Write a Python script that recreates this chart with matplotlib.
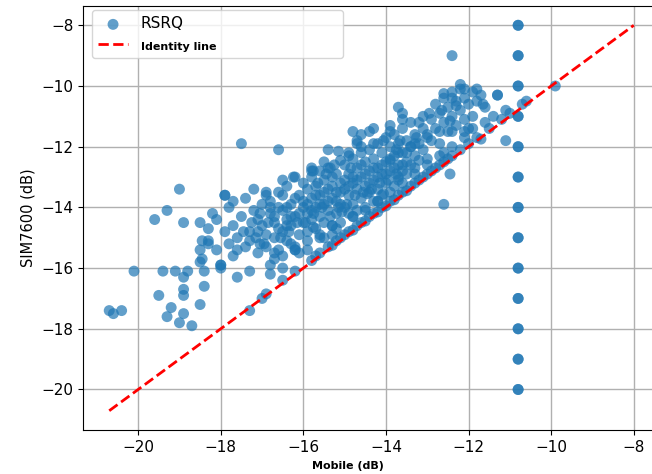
"""RSRQ: SIM7600 vs Mobile"""

import matplotlib
matplotlib.use("Agg")
import matplotlib.pyplot as plt
import numpy as np

# sparse points on the left
left_x = [-19.0, -19.3, -19.6, -18.9, -18.5, -20.1, -19.4, -19.1, -18.8, -18.9,
          -18.4, -18.4, -18.9, -18.9, -19.5, -19.2, -18.5, -20.7, -20.6, -20.4,
          -19.3, -18.9, -19.0, -18.7, -17.3, -18.0, -17.6, -17.3, -18.0, -18.5,
          -18.5, -18.3, -18.2, -18.1, -18.3, -18.45, -18.3, -18.1, -18.45, -18.0,
          -17.9, -17.5, -16.6, -15.4, -17.2, -16.9, -17.9, -17.7, -16.8, -16.5,
          -16.2, -16.8]
left_y = [-13.4, -14.1, -14.4, -14.5, -14.5, -16.1, -16.1, -16.1, -16.1, -16.3,
          -16.1, -16.6, -16.7, -16.9, -16.9, -17.3, -17.2, -17.4, -17.5, -17.4,
          -17.6, -17.5, -17.8, -17.9, -17.4, -16.0, -16.3, -16.1, -15.9, -15.8,
          -15.4, -15.2, -14.2, -14.4, -14.7, -15.1, -15.1, -15.4, -15.7, -15.9,
          -13.6, -11.9, -12.1, -12.1, -13.4, -13.5, -13.6, -13.8, -15.9, -16.0,
          -15.4, -16.2]

# main cloud above the identity line
band_x = [-17.8, -17.7, -17.6, -17.5, -17.4, -17.3, -17.2, -17.1, -17.0, -17.0,
          -17.6, -17.8, -17.3, -17.1, -17.4, -17.9, -17.7,
          -16.9, -16.9, -16.8, -16.8, -16.7, -16.7, -16.6, -16.6, -16.5, -16.5,
          -16.4, -16.4, -16.3, -16.3, -16.2, -16.2, -16.1, -16.1, -16.0, -16.0,
          -16.0, -16.9, -16.6, -16.4, -16.2, -16.7, -16.5, -16.3, -16.1,
          -15.9, -15.9, -15.9, -15.8, -15.8, -15.8, -15.7, -15.7, -15.7, -15.6,
          -15.6, -15.6, -15.5, -15.5, -15.5, -15.4, -15.4, -15.4, -15.3, -15.3,
          -15.3, -15.2, -15.2, -15.2, -15.1, -15.1, -15.0, -15.0, -15.0, -15.9,
          -15.6, -15.3, -15.1, -15.8, -15.5,
          -14.9, -14.9, -14.8, -14.8, -14.8, -14.7, -14.7, -14.6, -14.6, -14.6,
          -14.5, -14.5, -14.5, -14.4, -14.4, -14.4, -14.3, -14.3, -14.2, -14.2,
          -14.2, -14.1, -14.1, -14.0, -14.0, -14.0, -14.9, -14.7, -14.3, -14.1,
          -14.9, -14.6, -14.4, -14.7,
          -13.9, -13.9, -13.8, -13.8, -13.7, -13.7, -13.7, -13.6, -13.6, -13.5,
          -13.5, -13.4, -13.4, -13.3, -13.3, -13.2, -13.1, -13.1, -13.0, -13.0,
          -13.8, -13.5, -13.3, -13.9, -13.6,
          -12.9, -12.9, -12.8, -12.8, -12.7, -12.7, -12.6, -12.6, -12.5, -12.5,
          -12.4, -12.4, -12.3, -12.3, -12.2, -12.2, -12.1, -12.1, -12.0, -11.9,
          -11.8, -11.7, -11.6, -11.3, -12.0,
          -15.76, -15.15, -14.8, -14.3, -13.9, -13.7, -13.6, -13.2, -13.1, -12.95,
          -12.6, -12.65, -12.4, -12.2, -12.1, -11.8, -11.65, -12.3, -11.9, -12.45,
          -13.0, -12.7, -12.4, -12.1, -12.6, -12.45, -12.6, -13.2, -13.6, -13.9,
          -13.75, -13.4, -13.7, -14.06, -14.2, -14.45, -14.8, -15.07, -15.3, -15.6,
          -15.76, -16.2, -16.7, -17.05, -17.05, -17.1, -16.4, -16.5, -16.24, -15.8,
          -15.35, -15.1, -14.9, -14.6, -14.3, -14.7, -14.06, -13.66, -13.26, -12.4,
          -11.3, -9.9]
band_y = [-14.0, -14.6, -15.0, -14.3, -15.3, -14.8, -14.1, -15.5, -14.6, -13.9,
          -15.4, -15.2, -15.1, -14.4, -13.7, -14.8, -15.6,
          -14.9, -15.3, -14.2, -13.8, -15.0, -14.5, -13.5, -15.4, -14.1, -14.8,
          -13.3, -15.1, -13.9, -14.6, -14.3, -15.3, -13.6, -14.9, -13.2, -14.0,
          -14.5, -13.6, -14.0, -14.6, -13.0, -15.7, -15.6, -15.2, -15.5,
          -13.4, -14.2, -14.8, -13.0, -13.7, -14.4, -13.3, -14.0, -14.7, -12.8,
          -13.6, -14.3, -13.1, -13.9, -14.5, -12.7, -13.4, -14.1, -13.0, -13.7,
          -14.6, -12.9, -13.5, -14.2, -13.2, -13.9, -12.6, -13.4, -14.0, -15.1,
          -15.0, -14.9, -14.5, -12.7, -12.5,
          -12.9, -13.6, -12.4, -13.2, -13.9, -12.7, -13.4, -12.2, -13.0, -13.7,
          -12.5, -13.3, -14.0, -12.1, -12.8, -13.5, -12.4, -13.1, -11.9, -12.7,
          -13.4, -12.2, -12.9, -11.7, -12.5, -13.2, -14.2, -14.1, -13.8, -13.6,
          -12.3, -11.6, -11.5, -11.9,
          -12.0, -12.8, -11.6, -12.3, -11.9, -12.6, -13.1, -11.4, -12.2, -11.8,
          -12.5, -11.2, -12.0, -11.6, -12.3, -11.9, -11.4, -12.1, -11.7, -12.4,
          -13.3, -12.9, -12.7, -11.3, -10.9,
          -11.1, -11.8, -10.6, -11.4, -10.9, -11.9, -10.4, -11.2, -10.7, -11.5,
          -10.2, -11.0, -10.5, -11.3, -10.1, -10.8, -10.4, -11.1, -10.6, -10.2,
          -10.5, -10.3, -10.7, -10.3, -11.4,
          -12.8, -12.15, -11.5, -11.4, -11.5, -10.7, -11.1, -11.2, -11.0, -10.9,
          -10.25, -10.8, -10.4, -9.95, -10.1, -10.1, -10.6, -10.65, -11.0, -11.15,
          -11.6, -11.5, -11.5, -11.5, -12.2, -12.9, -13.9, -12.45, -12.8, -12.45,
          -12.1, -12.0, -13.0, -13.55, -13.8, -13.55, -14.3, -14.15, -14.6, -14.9,
          -14.65, -15.4, -15.5, -15.2, -14.2, -14.8, -14.4, -13.1, -13.0, -12.8,
          -12.7, -12.45, -12.2, -12.0, -11.9, -11.8, -11.8, -11.8, -11.7, -9.0,
          -10.3, -10.0]

# extra points in the densest part of the cloud
core_x = [-16.8, -16.7, -16.6, -16.5, -16.4, -16.3, -16.2, -16.1, -16.0, -15.9,
          -15.8, -15.7, -15.6, -15.5, -15.4, -15.3, -15.2, -15.1, -15.0, -14.9,
          -14.8, -14.7, -14.6, -14.5, -14.4, -14.3, -14.2, -14.1, -14.0, -13.9,
          -13.8, -13.7, -13.6, -13.5, -13.4, -13.3, -16.55, -16.35, -16.15, -15.95,
          -15.75, -15.55, -15.35, -15.15, -14.95, -14.75, -14.55, -14.35, -14.15, -13.95,
          -13.75, -17.25, -17.15, -16.95, -16.85, -17.45, -15.65, -15.45, -15.25, -14.85]
core_y = [-14.0, -14.3, -14.7, -13.6, -14.0, -14.3, -13.7, -14.2, -13.8, -13.9,
          -14.1, -13.6, -13.9, -13.5, -13.8, -13.3, -13.8, -13.5, -13.1, -13.3,
          -13.0, -13.1, -12.6, -12.9, -13.2, -12.7, -13.0, -12.6, -12.9, -12.4,
          -12.7, -12.2, -12.6, -12.2, -12.6, -11.9, -15.0, -14.8, -14.5, -14.5,
          -14.2, -14.0, -14.3, -14.0, -13.9, -13.6, -13.5, -13.4, -13.2, -13.1,
          -12.9, -14.5, -15.0, -15.2, -14.5, -14.8, -13.2, -12.9, -12.6, -12.7]

# points along the identity line
diag_x = [-17.0, -16.9, -16.5, -16.2, -15.8, -15.7, -15.6, -15.4, -15.3, -15.2,
          -15.1, -15.0, -14.9, -14.8, -14.7, -14.6, -14.5, -14.4, -14.3, -14.2,
          -14.1, -14.0, -13.9, -13.8, -13.7, -13.6, -13.5, -13.4, -13.3, -13.2,
          -13.1, -13.0, -12.9, -12.8, -12.7, -12.6, -12.5, -12.4, -12.2, -12.0,
          -11.8, -11.5, -11.2, -11.0, -10.7, -10.6,
          -15.9, -15.5, -15.2, -14.8, -14.5, -14.2, -13.9, -13.6, -13.3, -13.0,
          -12.7, -12.4, -12.1, -11.9, -11.6, -11.4, -11.1, -11.1, -11.7]
diag_y = [-17.0, -16.85, -16.4, -16.1, -15.75, -15.6, -15.5, -15.3, -15.25, -15.1,
          -15.0, -14.9, -14.8, -14.75, -14.6, -14.5, -14.45, -14.3, -14.2, -14.15,
          -14.0, -13.95, -13.8, -13.75, -13.6, -13.5, -13.45, -13.3, -13.2, -13.1,
          -13.0, -12.9, -12.8, -12.7, -12.6, -12.5, -12.4, -12.3, -12.1, -11.9,
          -11.7, -11.4, -11.1, -10.9, -10.6, -10.5,
          -15.4, -15.0, -14.7, -14.3, -14.1, -13.8, -13.5, -13.2, -12.9, -12.6,
          -12.3, -12.0, -11.7, -11.4, -11.2, -11.0, -10.8, -11.8, -11.75]

# repeated readings at one mobile value
col_x = [-10.8] * 26
col_y = [-8, -8, -9, -9, -10, -10, -11, -11, -12, -12, -13, -13, -14, -14,
         -15, -15, -16, -16, -17, -17, -18, -18, -19, -19, -20, -20]

mobile = np.array(left_x + band_x + core_x + diag_x + col_x)
sim7600 = np.array(left_y + band_y + core_y + diag_y + col_y)

fig = plt.figure(figsize=(6.52, 4.74), dpi=100)
ax = fig.add_axes([0.1273, 0.0928, 0.885, 0.8945])

ax.scatter(mobile, sim7600, s=62, color='#1f77b4', alpha=0.7,
           edgecolors='none', label='RSRQ', zorder=2)

lo = min(mobile.min(), sim7600.min())
hi = max(mobile.max(), sim7600.max())
ax.plot([lo, hi], [lo, hi], '--', color='red', lw=2, label='Identity line', zorder=3)

ax.set_xticks(np.arange(-20, -7, 2))
ax.set_yticks(np.arange(-20, -7, 2))
ax.tick_params(labelsize=11)
ax.grid(True, color='#b0b0b0', lw=1)
ax.set_axisbelow(True)

ax.set_ylabel('SIM7600 (dB)', fontsize=10.5)
ax.set_xlabel('Mobile (dB)', fontsize=8, fontweight='bold')
ax.xaxis.set_label_coords(0.46, -0.072)

leg = ax.legend(loc='upper left', bbox_to_anchor=(0.015, 0.5, 0.435, 0.49),
                mode='expand', borderaxespad=0, fontsize=11)
leg.get_texts()[1].set_fontsize(8)
leg.get_texts()[1].set_fontweight('bold')

fig.savefig('out.png', dpi=100)
